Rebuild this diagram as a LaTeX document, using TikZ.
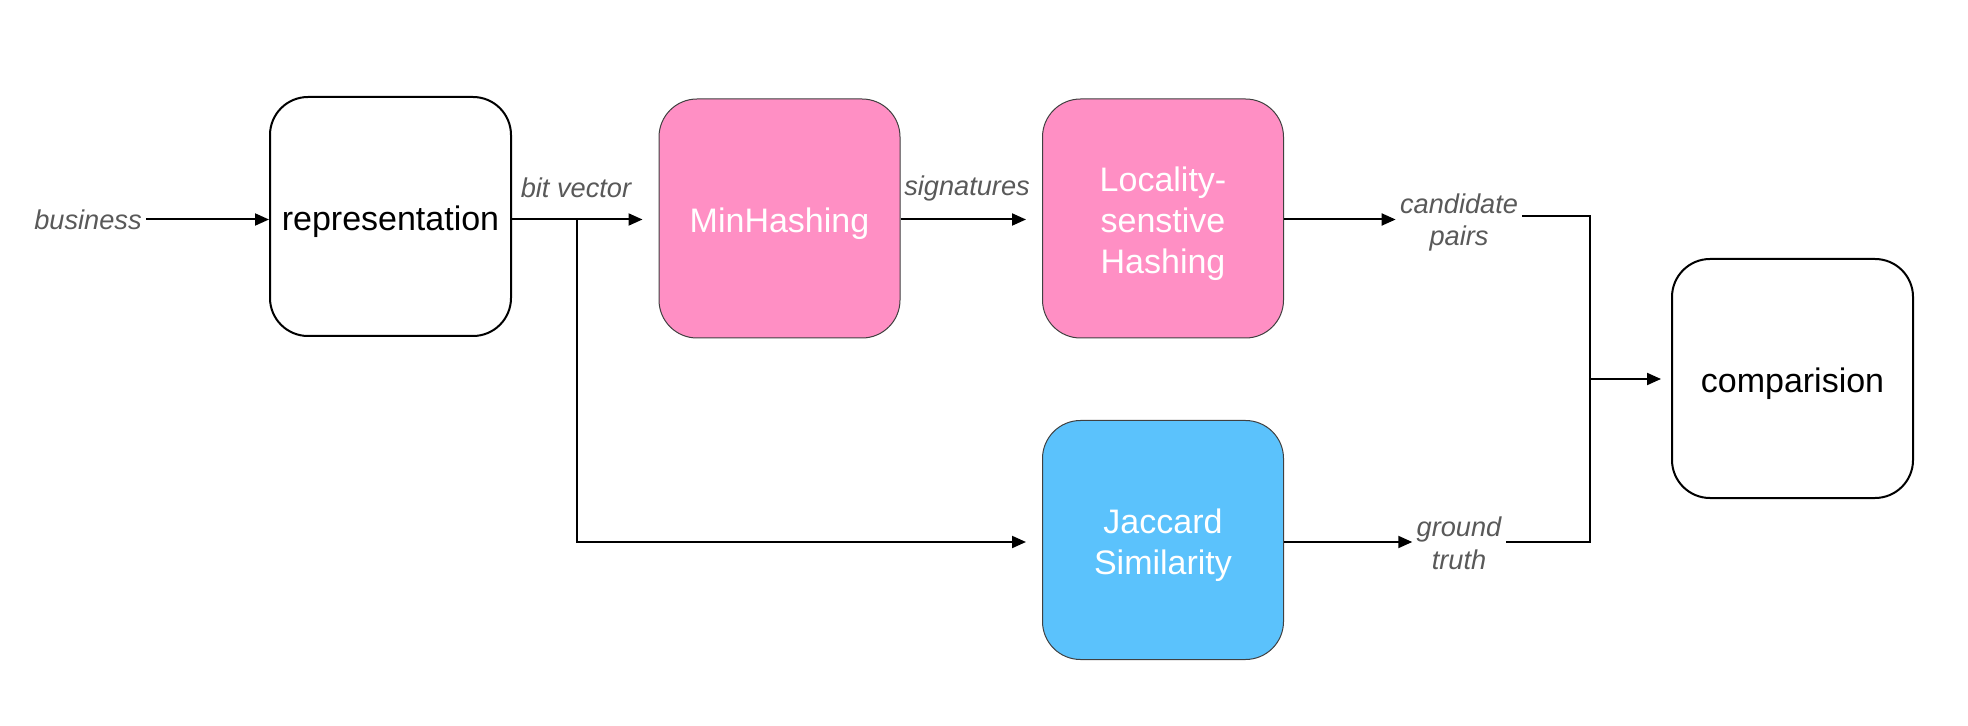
\documentclass[tikz,border=0pt]{standalone}
\usepackage{fontspec}
\setmainfont{Liberation Sans}
\usetikzlibrary{arrows.meta}
\definecolor{pinkfill}{HTML}{FF8FC4}
\definecolor{bluefill}{HTML}{5BC2FC}
\definecolor{labelgray}{HTML}{595959}
\newcommand{\bxtext}[1]{\raisebox{-2.8pt}[\height][\depth]{\begin{tabular}{@{}c@{}}#1\end{tabular}}}
\tikzset{
  boxbase/.style={rounded corners=19pt, minimum width=120.5pt, minimum height=119.5pt,
    align=center, font=\fontsize{17pt}{20.4pt}\selectfont, inner sep=2pt},
  plainbox/.style={boxbase, draw=black, line width=1pt, fill=white, text=black},
  pinkbox/.style={boxbase, draw=black!75, line width=0.5pt, fill=pinkfill, text=white},
  bluebox/.style={boxbase, draw=black!75, line width=0.5pt, fill=bluefill, text=white},
  lbl/.style={font=\fontsize{13.6pt}{16.3pt}\selectfont\itshape, text=labelgray, align=center, inner sep=2pt},
  conn/.style={line width=1pt, draw=black},
  arr/.style={conn, -{Triangle[length=7pt,width=6pt]}}
}
\begin{document}
\begin{tikzpicture}[x=0.5pt,y=-0.5pt]
\useasboundingbox (0,0) rectangle (1968,726);
\node[plainbox] (rep) at (390.5,216.5) {\bxtext{representation}};
\node[pinkbox] (mh) at (779.5,218.5) {\bxtext{MinHashing}};
\node[pinkbox] (lsh) at (1163,218.5) {\bxtext{Locality-\\senstive\\Hashing}};
\node[bluebox] (js) at (1163,540) {\bxtext{Jaccard\\Similarity}};
\node[plainbox] (cmp) at (1792.5,378.5) {\bxtext{comparision}};

\node[lbl] (bus) at (88,219.5) {business};
\node[lbl] (cp) at (1459,222.5) {candidate\\pairs};
\node[lbl] (gt) at (1459,543) {ground\\truth};
\node[lbl] (bv) at (576,188) {bit vector};
\node[lbl] (sig) at (967,188) {signatures};

\coordinate (br) at (577,219.5);
\coordinate (lo) at (577,542);
\coordinate (jm) at (1590,379);

\draw[arr] (bus.east) -- (bus.east -| rep.west);
\draw[arr] (rep.east |- br) -- ([xshift=-8pt]mh.west |- br);
\draw[arr] (br) -- (lo) -- ([xshift=-8pt]js.west |- lo);
\draw[arr] (mh.east |- br) -- ([xshift=-8pt]lsh.west |- br);
\draw[arr] (lsh.east |- br) -- (cp.west |- br);
\draw[arr] (js.east |- lo) -- (gt.west |- lo);
\draw[conn] (cp.east |- 0,216) -| (jm) |- (gt.east |- lo);
\draw[arr] (jm) -- ([xshift=-5pt]cmp.west |- jm);
\end{tikzpicture}
\end{document}
